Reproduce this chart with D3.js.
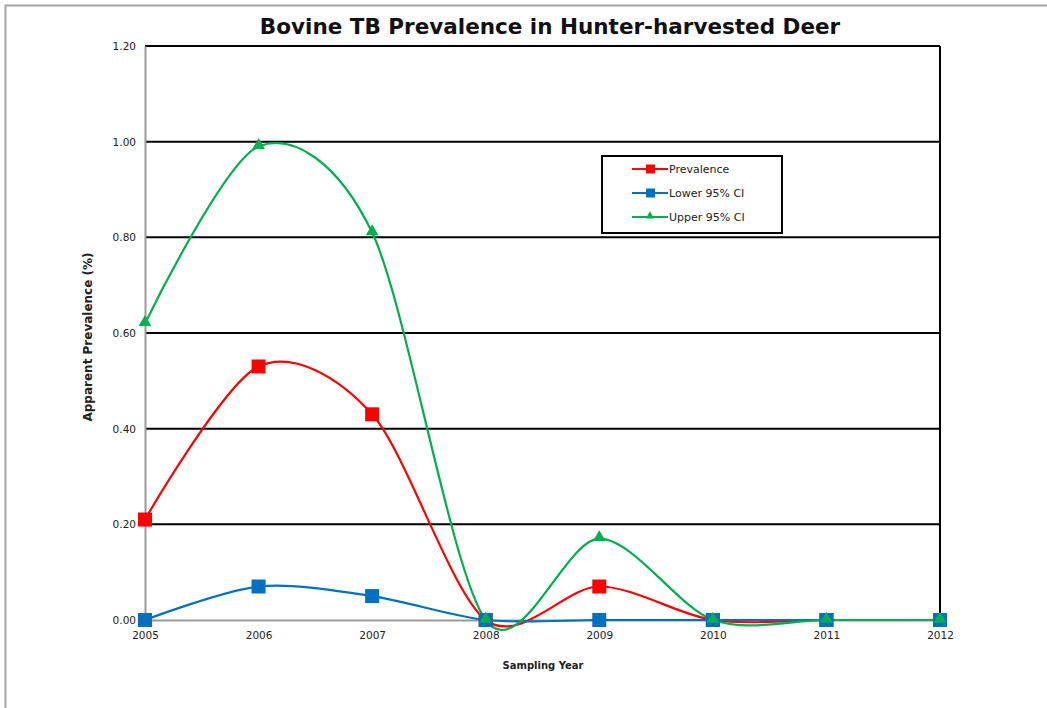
<!DOCTYPE html>
<html>
<head>
<meta charset="utf-8">
<script src="https://cdn.jsdelivr.net/npm/d3@7"></script>
<style>
  body { margin: 0; background: #fff; }
  svg { font-family: "DejaVu Sans", Verdana, sans-serif; }
</style>
</head>
<body>
<div id="chart"></div>
<script>
const years = [2005, 2006, 2007, 2008, 2009, 2010, 2011, 2012];
const prevalence = [0.21, 0.53, 0.43, 0, 0.07, 0, 0, 0];
const lower95 = [0, 0.07, 0.05, 0, 0, 0, 0, 0];
const upper95 = [0.62, 0.99, 0.81, 0, 0.17, 0, 0, 0];
const yTicks = [0, 0.2, 0.4, 0.6, 0.8, 1.0, 1.2];

const series = [
  { name: "Prevalence", values: prevalence, color: "#ff0000", marker: "square" },
  { name: "Lower 95% CI", values: lower95, color: "#0070c0", marker: "square" },
  { name: "Upper 95% CI", values: upper95, color: "#00b050", marker: "triangle" }
];

const W = 1047, H = 708;
const plot = { left: 145, right: 940, top: 46, bottom: 620 };

const svg = d3.select("#chart").append("svg")
  .attr("width", W)
  .attr("height", H);

// outer frame
svg.append("rect")
  .attr("x", 5.5).attr("y", 5.5)
  .attr("width", W + 10).attr("height", H + 10)
  .attr("fill", "#fff")
  .attr("stroke", "#a6a6a6")
  .attr("stroke-width", 2);

const x = d3.scaleLinear().domain([2005, 2012]).range([plot.left, plot.right]);
const y = d3.scaleLinear().domain([0, 1.2]).range([plot.bottom, plot.top]);

// gridlines
svg.append("g")
  .selectAll("line")
  .data(yTicks.filter(d => d > 0))
  .join("line")
    .attr("x1", plot.left).attr("x2", plot.right)
    .attr("y1", d => y(d)).attr("y2", d => y(d))
    .attr("stroke", "#000")
    .attr("stroke-width", 2);

// right border of plot area
svg.append("line")
  .attr("x1", plot.right).attr("x2", plot.right)
  .attr("y1", plot.top).attr("y2", plot.bottom)
  .attr("stroke", "#000")
  .attr("stroke-width", 2);

// y axis
const yAxis = svg.append("g")
  .attr("transform", `translate(${plot.left},0)`)
  .call(d3.axisLeft(y).tickValues(yTicks).tickFormat(d3.format(".2f")).tickSize(0).tickPadding(9));
yAxis.select(".domain").attr("stroke", "#999").attr("stroke-width", 2);
yAxis.selectAll("text").attr("font-size", 10.5).attr("fill", "#222")
  .style("font-family", "'DejaVu Sans', Verdana, sans-serif");

// x axis
const xAxis = svg.append("g")
  .attr("transform", `translate(0,${plot.bottom})`)
  .call(d3.axisBottom(x).tickValues(years).tickFormat(d3.format("d")).tickSize(0).tickPadding(12));
xAxis.select(".domain").attr("stroke", "#999").attr("stroke-width", 2);
xAxis.selectAll("text").attr("font-size", 10.5).attr("fill", "#222")
  .style("font-family", "'DejaVu Sans', Verdana, sans-serif");

// titles
svg.append("text")
  .attr("x", 550).attr("y", 34)
  .attr("text-anchor", "middle")
  .attr("font-size", 21.5)
  .attr("font-weight", "bold")
  .attr("fill", "#111")
  .text("Bovine TB Prevalence in Hunter-harvested Deer");

svg.append("text")
  .attr("x", 543).attr("y", 669)
  .attr("text-anchor", "middle")
  .attr("font-size", 10)
  .attr("font-weight", "bold")
  .attr("fill", "#222")
  .text("Sampling Year");

svg.append("text")
  .attr("transform", "translate(92,337) rotate(-90)")
  .attr("text-anchor", "middle")
  .attr("font-size", 12)
  .attr("font-weight", "bold")
  .attr("fill", "#222")
  .text("Apparent Prevalence (%)");

// lines
const line = d3.line()
  .x((d, i) => x(years[i]))
  .y(d => y(d))
  .curve(d3.curveCardinal.tension(0.1));

const triangle = d3.symbol().type(d3.symbolTriangle).size(70);

series.forEach(s => {
  svg.append("path")
    .datum(s.values)
    .attr("fill", "none")
    .attr("stroke", s.color)
    .attr("stroke-width", 2.2)
    .attr("d", line);
});

series.forEach(s => {
  const g = svg.append("g");
  if (s.marker === "square") {
    g.selectAll("rect")
      .data(s.values)
      .join("rect")
        .attr("x", (d, i) => x(years[i]) - 7)
        .attr("y", d => y(d) - 7)
        .attr("width", 14).attr("height", 14)
        .attr("fill", s.color);
  } else {
    g.selectAll("path")
      .data(s.values)
      .join("path")
        .attr("transform", (d, i) => `translate(${x(years[i])},${y(d) - 1})`)
        .attr("d", triangle)
        .attr("fill", s.color);
  }
});

// legend
const legend = svg.append("g").attr("transform", "translate(602,156)");
legend.append("rect")
  .attr("width", 180).attr("height", 77)
  .attr("fill", "#fff")
  .attr("stroke", "#000")
  .attr("stroke-width", 2);

series.forEach((s, i) => {
  const ly = 13 + i * 24;
  const row = legend.append("g").attr("transform", `translate(0,${ly})`);
  row.append("line")
    .attr("x1", 30).attr("x2", 66)
    .attr("y1", 0).attr("y2", 0)
    .attr("stroke", s.color)
    .attr("stroke-width", 2.2);
  if (s.marker === "square") {
    row.append("rect")
      .attr("x", 44).attr("y", -4.5)
      .attr("width", 9).attr("height", 9)
      .attr("fill", s.color);
  } else {
    row.append("path")
      .attr("transform", "translate(48,-1)")
      .attr("d", d3.symbol().type(d3.symbolTriangle).size(30))
      .attr("fill", s.color);
  }
  row.append("text")
    .attr("x", 67).attr("y", 4)
    .attr("font-size", 11)
    .attr("fill", "#222")
    .text(s.name);
});
</script>
</body>
</html>
